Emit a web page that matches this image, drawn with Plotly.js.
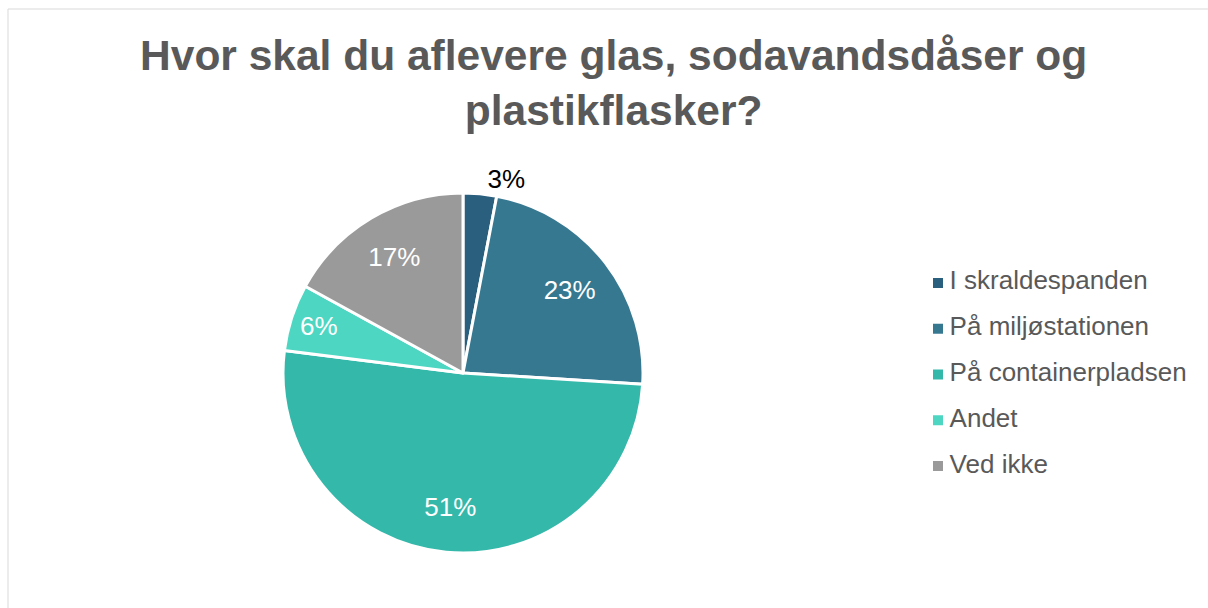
<!DOCTYPE html>
<html>
<head>
<meta charset="utf-8">
<script src="https://cdn.plot.ly/plotly-3.0.1.min.js"></script>
<style>
  body { margin: 0; padding: 0; background: #fff; }
  #chart { width: 1208px; height: 608px; }
</style>
</head>
<body>
<div id="chart"></div>
<script>
// svar fordelt i procent
let categories = ['I skraldespanden', 'På miljøstationen', 'På containerpladsen', 'Andet', 'Ved ikke'];
let values = [3, 23, 51, 6, 17];
let colors = ['#2b5f7e', '#377891', '#34b8aa', '#4dd6c1', '#9a9a9a'];
let labelPos = ['outside', 'inside', 'inside', 'inside', 'inside'];

let legendIdx = categories.map(function(c, i){ return i; });
let pieDomain = { x: [283/1208, 643/1208], y: [1 - 553/608, 1 - 193/608] };
let fontFam = 'Liberation Sans, Arial, sans-serif';

let pie = {
  type: 'pie',
  labels: categories,
  values: values,
  sort: false,
  direction: 'clockwise',
  rotation: 0,
  textinfo: 'none',
  marker: { colors: colors, line: { color: '#ffffff', width: 3 } },
  domain: pieDomain,
  showlegend: false,
  hoverinfo: 'label+percent'
};

// transparent ring on top, only so the labels sit out towards the rim
let labelRing = {
  type: 'pie',
  labels: categories,
  values: values,
  sort: false,
  direction: 'clockwise',
  rotation: 0,
  hole: 0.5,
  textinfo: 'percent',
  textposition: labelPos,
  insidetextorientation: 'horizontal',
  insidetextfont: { family: fontFam, size: 26, color: '#ffffff' },
  outsidetextfont: { family: fontFam, size: 26, color: '#000000' },
  marker: { colors: categories.map(function(){ return 'rgba(0,0,0,0)'; }), line: { width: 0 } },
  domain: pieDomain,
  showlegend: false,
  hoverinfo: 'skip'
};

// legend drawn as a small scatter so spacing matches
let legendMarks = {
  type: 'scatter',
  mode: 'markers',
  x: legendIdx.map(function(){ return 0; }),
  y: legendIdx,
  marker: { symbol: 'square', size: 10, color: colors },
  cliponaxis: false,
  showlegend: false,
  hoverinfo: 'skip'
};

let legendText = {
  type: 'scatter',
  mode: 'text',
  x: legendIdx.map(function(){ return 0.45; }),
  y: legendIdx,
  text: categories,
  textposition: 'middle right',
  textfont: { family: fontFam, size: 26, color: '#595959' },
  cliponaxis: false,
  showlegend: false,
  hoverinfo: 'skip'
};

let layout = {
  width: 1208,
  height: 608,
  margin: { l: 0, r: 0, t: 0, b: 0 },
  paper_bgcolor: '#ffffff',
  plot_bgcolor: 'rgba(0,0,0,0)',
  showlegend: false,
  title: {
    text: 'Hvor skal du aflevere glas, sodavandsdåser og<br>plastikflasker?',
    font: { family: fontFam, size: 42.5, color: '#595959', weight: 'bold' },
    x: 0.508,
    xanchor: 'center',
    y: 0.885,
    yanchor: 'top',
    yref: 'container'
  },
  xaxis: { domain: [938/1208, 0.99], range: [0, 10], visible: false, fixedrange: true },
  yaxis: { domain: [1 - 488.9/608, 1 - 260.1/608], range: [4.5, -0.5], visible: false, fixedrange: true },
  shapes: [
    { type: 'line', xref: 'paper', yref: 'paper', x0: 8/1208, x1: 1, y0: 1 - 9/608, y1: 1 - 9/608, line: { color: '#d9d9d9', width: 1 } },
    { type: 'line', xref: 'paper', yref: 'paper', x0: 8/1208, x1: 8/1208, y0: 0, y1: 1 - 9/608, line: { color: '#d9d9d9', width: 1 } }
  ]
};

Plotly.newPlot('chart', [pie, labelRing, legendMarks, legendText], layout, { displayModeBar: false, staticPlot: true });
</script>
</body>
</html>
